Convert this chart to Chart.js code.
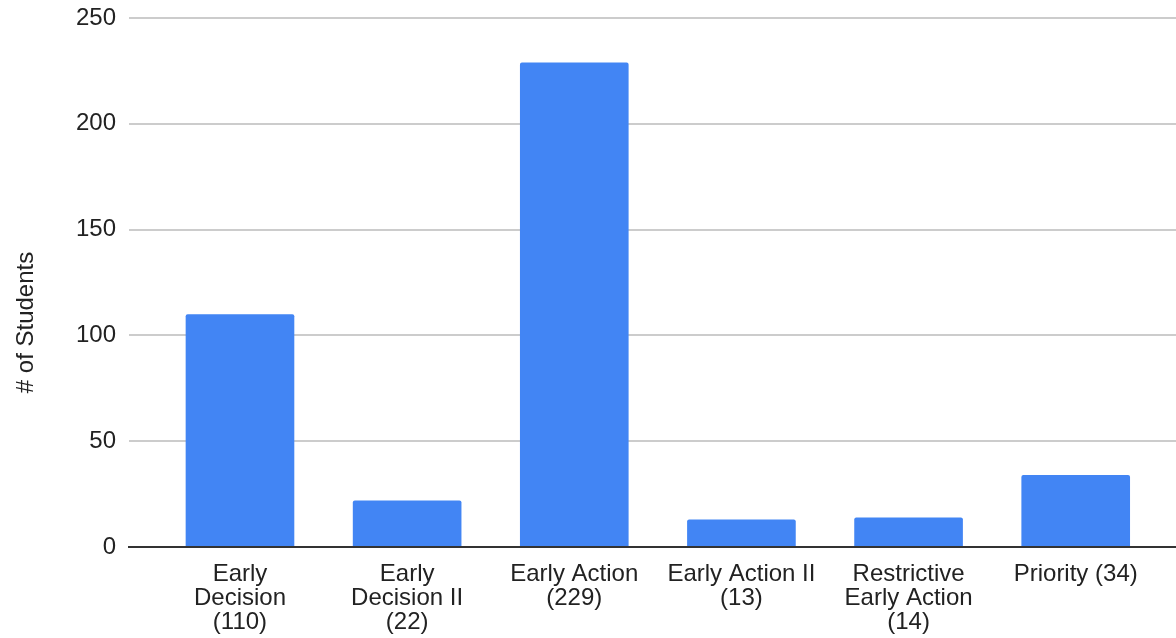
<!DOCTYPE html>
<html>
<head>
<meta charset="utf-8">
<script src="https://cdn.jsdelivr.net/npm/chart.js@4"></script>
<style>
  html, body { margin: 0; padding: 0; background: #fff; }
  #wrap { width: 1176px; height: 638px; }
</style>
</head>
<body>
<div id="wrap"><canvas id="chart"></canvas></div>
<script>
const BAR_COLOR = '#4285f4';
const GRID_COLOR = '#cccccc';
const TEXT_COLOR = '#222222';

const CATEGORIES = [
    ['Early', 'Decision', '(110)'],
    ['Early', 'Decision II', '(22)'],
    ['Early Action', '(229)'],
    ['Early Action II', '(13)'],
    ['Restrictive', 'Early Action', '(14)'],
    ['Priority (34)']
];
const VALUES = [110, 22, 229, 13, 14, 34];
const Y_TICKS = [0, 50, 100, 150, 200, 250];

const FAMILY = '"Liberation Sans", Arial, sans-serif';
// trailing spaces shift the rotated title down, like the original
const Y_TITLE = '# of Students' + ' '.repeat(12);

new Chart(document.getElementById('chart'), {
    type: 'bar',
    data: {
        datasets: [{
            data: VALUES.map((v, i) => ({ x: i, y: v })),
            backgroundColor: BAR_COLOR,
            borderRadius: { topLeft: 2, topRight: 2 },
            borderSkipped: 'bottom',
            categoryPercentage: 1,
            barPercentage: 0.65
        }]
    },
    options: {
        responsive: true,
        maintainAspectRatio: false,
        animation: false,
        layout: { padding: { top: 18, right: 0, bottom: 0, left: 0 } },
        plugins: {
            legend: { display: false },
            tooltip: { enabled: false }
        },
        scales: {
            x: {
                type: 'linear',
                offset: false,
                min: -0.664,
                max: 5.6,
                afterBuildTicks: scale => {
                    scale.ticks = CATEGORIES.map((_, i) => ({ value: i }));
                },
                afterFit: scale => {
                    scale.height = 91;
                    scale.paddingLeft = 0;
                    scale.paddingRight = 0;
                },
                ticks: {
                    autoSkip: false,
                    maxRotation: 0,
                    padding: 15,
                    color: TEXT_COLOR,
                    font: { family: FAMILY, size: 24, lineHeight: 1.0 },
                    callback: value => CATEGORIES[value] || ''
                },
                grid: { display: false, drawTicks: false },
                border: { display: true, color: '#333333', width: 2 }
            },
            y: {
                min: 0,
                max: 250,
                afterBuildTicks: scale => {
                    scale.ticks = Y_TICKS.map(v => ({ value: v }));
                },
                afterFit: scale => {
                    scale.width = 129;
                    scale.paddingTop = 0;
                    scale.paddingBottom = 0;
                },
                ticks: {
                    padding: 13,
                    color: TEXT_COLOR,
                    font: { family: FAMILY, size: 24 }
                },
                grid: { color: GRID_COLOR, lineWidth: 2, drawTicks: false },
                border: { display: false },
                title: {
                    display: true,
                    text: Y_TITLE,
                    color: TEXT_COLOR,
                    font: { family: FAMILY, size: 24 },
                    padding: { top: 12, bottom: 0 }
                }
            }
        }
    }
});
</script>
</body>
</html>
